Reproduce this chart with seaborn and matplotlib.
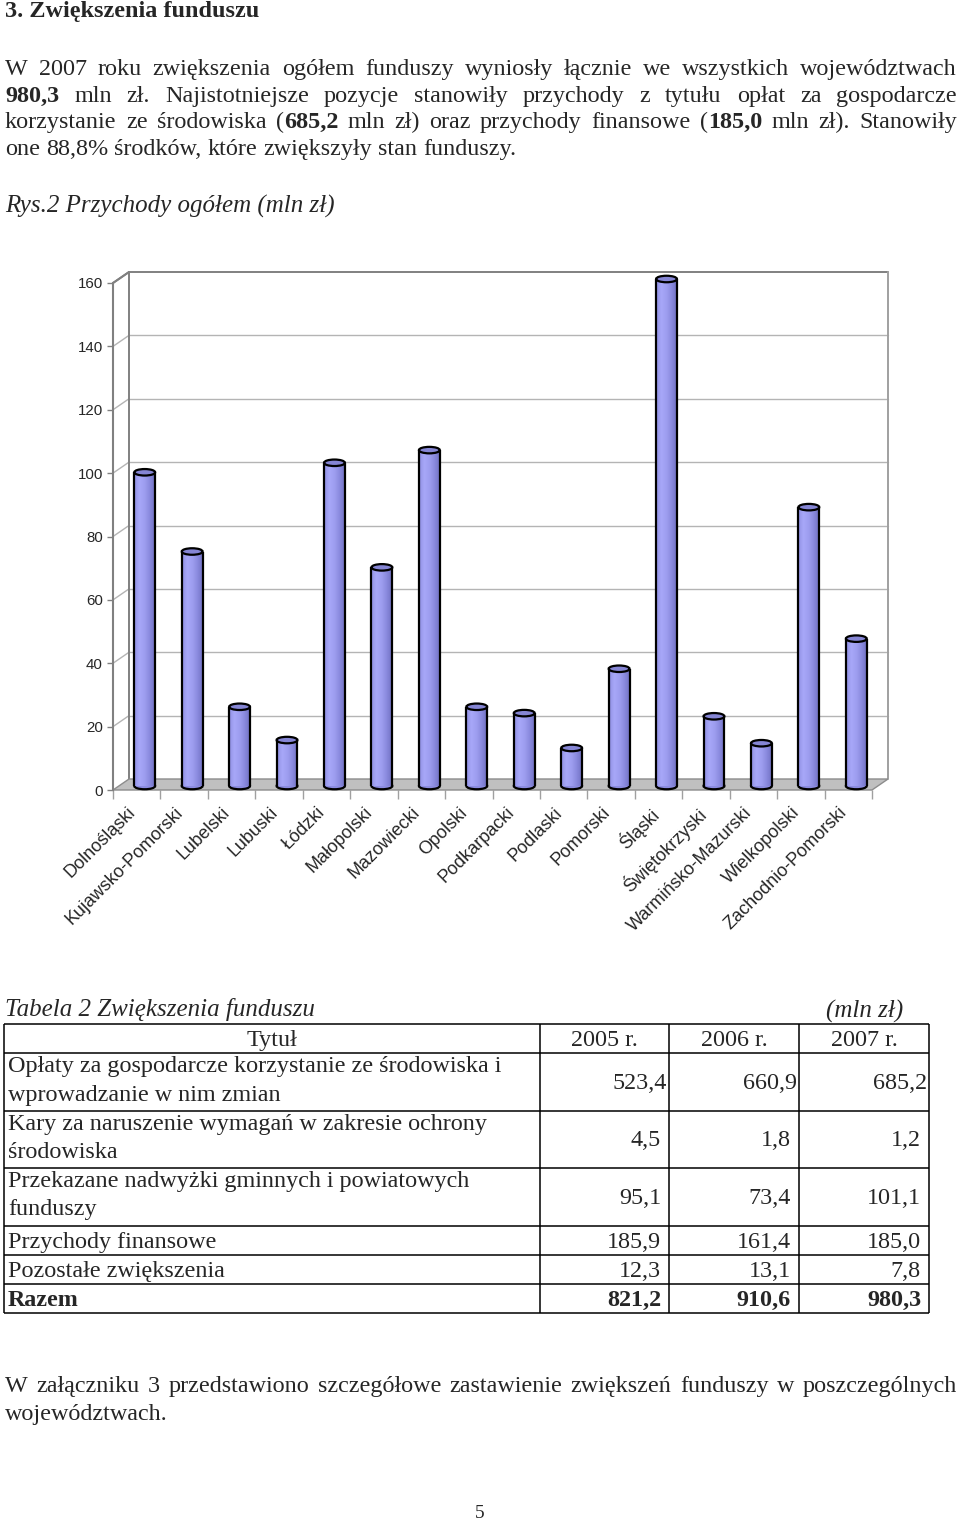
import matplotlib
matplotlib.use('Agg')
import matplotlib.pyplot as plt
import numpy as np
import pandas as pd
import seaborn as sns
from matplotlib.patches import Ellipse, Polygon
from matplotlib.colors import LinearSegmentedColormap
from matplotlib.transforms import ScaledTranslation

# chart data (mln zl)
regions = ['Dolnośląski', 'Kujawsko-Pomorski', 'Lubelski', 'Lubuski', 'Łódzki',
           'Małopolski', 'Mazowiecki', 'Opolski', 'Podkarpacki', 'Podlaski',
           'Pomorski', 'Śląski', 'Świętokrzyski', 'Warmińsko-Mazurski',
           'Wielkopolski', 'Zachodnio-Pomorski']
przychody = [99, 74, 25, 14.5, 102, 69, 106, 25, 23, 12, 37, 160, 22, 13.5, 88, 46.5]
y_ticks = [0, 20, 40, 60, 80, 100, 120, 140, 160]

# table data
tab_titles = ['Opłaty za gospodarcze korzystanie ze środowiska i\nwprowadzanie w nim zmian',
              'Kary za naruszenie wymagań w zakresie ochrony\nśrodowiska',
              'Przekazane nadwyżki gminnych i powiatowych\nfunduszy',
              'Przychody finansowe',
              'Pozostałe zwiększenia',
              'Razem']
tab_years = ['2005 r.', '2006 r.', '2007 r.']
v2005 = [523.4, 4.5, 95.1, 185.9, 12.3, 821.2]
v2006 = [660.9, 1.8, 73.4, 161.4, 13.1, 910.6]
v2007 = [685.2, 1.2, 101.1, 185.0, 7.8, 980.3]

para1 = ['W 2007 roku zwiększenia ogółem funduszy wyniosły łącznie we wszystkich województwach',
         '**980,3** mln zł. Najistotniejsze pozycje stanowiły przychody z tytułu opłat za gospodarcze',
         'korzystanie ze środowiska (**685,2** mln zł) oraz przychody finansowe (**185,0** mln zł). Stanowiły',
         'one 88,8% środków, które zwiększyły stan funduszy.']
para2 = ['W załączniku 3 przedstawiono szczegółowe zastawienie zwiększeń funduszy w poszczególnych',
         'województwach.']

SERIF = ['Liberation Serif', 'DejaVu Serif']
FS = 17.4      # body text size
FS_CAP = 18    # italic captions

sns.set_theme(style='white')
plt.rcParams['font.family'] = ['Liberation Sans', 'DejaVu Sans']

fig = plt.figure(figsize=(9.6, 15.2), dpi=100)
page = fig.add_axes([0, 0, 1, 1])
page.set_xlim(0, 960)
page.set_ylim(1520, 0)
page.axis('off')
renderer = fig.canvas.get_renderer()


def text_line(y, line, size, justify=True, x0=5, x1=957):
    # words with **bold** parts, spread over the full width when justified
    bold = False
    words = []
    for w in line.split(' '):
        segs = []
        for i, part in enumerate(w.split('**')):
            if i > 0:
                bold = not bold
            if part:
                t = page.text(0, y, part, fontsize=size, family=SERIF,
                              fontweight='bold' if bold else 'normal', va='baseline')
                segs.append((t, t.get_window_extent(renderer).width))
        words.append(segs)
    widths = [sum(s[1] for s in segs) for segs in words]
    if justify and len(words) > 1:
        gap = (x1 - x0 - sum(widths)) / (len(words) - 1)
    else:
        gap = size * 0.25 / 0.72
    x = x0
    for segs in words:
        for t, tw in segs:
            t.set_x(x)
            x += tw
        x += gap


page.text(5, 17, '3. Zwiększenia funduszu', fontsize=17.5, family=SERIF,
          fontweight='bold', va='baseline')
for i, line in enumerate(para1):
    text_line(75 + i * 26.7, line, FS, justify=(i < len(para1) - 1))
page.text(5, 213, 'Rys.2 Przychody ogółem (mln zł)', fontsize=FS_CAP, family=SERIF,
          style='italic', va='baseline')

# ---- chart (pseudo 3D cylinders) ----
ax = fig.add_axes([113 / 960, 1 - 790 / 1520, 759 / 960, 507 / 1520])
ax.set_facecolor('none')
px_x = 759 / 16
px_y = 507 / 160
dx, dy = 16 / px_x, 11 / px_y          # depth of the box
mx, base = 8 / px_x, 4 / px_y          # bars sit at mid depth
eh = 6.5 / px_y

df = pd.DataFrame({'region': regions, 'value': przychody})
sns.barplot(data=df, x='region', y='value', ax=ax, color='#9494EA', saturation=1,
            width=0.44, linewidth=0, order=regions)
ax.set_xlabel('')
ax.set_ylabel('')

# back wall, left wall and floor
for v in y_ticks[1:]:
    c, lw = ('#808080', 1.4) if v == y_ticks[-1] else ('#B4B4B4', 1.0)
    ax.plot([-0.5 + dx, 15.5 + dx], [v + dy, v + dy], color=c, lw=lw, clip_on=False, zorder=0.5)
    ax.plot([-0.5, -0.5 + dx], [v, v + dy], color=c, lw=lw, clip_on=False, zorder=0.5)
ax.plot([-0.5 + dx, -0.5 + dx], [dy, 160 + dy], color='#808080', lw=1.4, clip_on=False, zorder=0.6)
ax.plot([15.5 + dx, 15.5 + dx], [dy, 160 + dy], color='#A0A0A0', lw=1.4, clip_on=False, zorder=0.6)
ax.add_patch(Polygon([(-0.5, 0), (15.5, 0), (15.5 + dx, dy), (-0.5 + dx, dy)],
                     closed=True, fc='#C0C0C0', ec='#8C8C8C', lw=1.0, clip_on=False, zorder=1))

cyl = LinearSegmentedColormap.from_list(
    'cyl', ['#9090E4', '#A8A8F8', '#9E9EF0', '#8A8ADE', '#7272C4'])
grad = np.linspace(0, 1, 64).reshape(1, -1)
for p in list(ax.patches):
    if isinstance(p, Polygon):
        continue
    h = p.get_height()
    x0 = p.get_x() + mx
    w = p.get_width()
    p.set_x(x0)
    p.set_y(base)
    p.set_zorder(3)
    p.set_clip_on(False)
    ax.add_patch(Ellipse((x0 + w / 2, base), w, eh, fc='#8C8CE0', ec='black',
                         lw=1.6, zorder=2, clip_on=False))
    im = ax.imshow(grad, extent=[x0, x0 + w, base, base + h], aspect='auto',
                   cmap=cyl, origin='lower', zorder=3.5, interpolation='bilinear')
    im.set_clip_path(p)
    ax.vlines([x0, x0 + w], base, base + h, color='black', lw=1.6, zorder=4, clip_on=False)
    ax.add_patch(Ellipse((x0 + w / 2, base + h), w, eh, fc='#8585D4', ec='black',
                         lw=1.6, zorder=5, clip_on=False))

ax.set_xlim(-0.5, 15.5)
ax.set_ylim(0, 160)
ax.set_yticks(y_ticks)
ax.set_xticks(range(len(regions)))
ax.set_xticklabels(regions, rotation=45, ha='right', va='top', rotation_mode='anchor',
                   fontsize=13)
ax.set_xticks(np.arange(-0.5, len(regions), 1), minor=True)
ax.tick_params(axis='x', which='major', length=0, pad=10)
ax.tick_params(axis='x', which='minor', length=6.5, color='#A0A0A0', width=1, bottom=True)
ax.tick_params(axis='y', length=4.3, color='#808080', width=1, left=True, labelsize=10.8, pad=3)
for lbl in ax.get_xticklabels():
    lbl.set_transform(lbl.get_transform() + ScaledTranslation(-0.10, 0, fig.dpi_scale_trans))
for s in ['top', 'right', 'bottom']:
    ax.spines[s].set_visible(False)
ax.spines['left'].set_color('#808080')
ax.spines['left'].set_linewidth(1.5)
ax.plot([-0.5, -0.5 + dx], [160, 160 + dy], color='#808080', lw=1.4, clip_on=False)

# ---- table ----
page.text(5, 1016, 'Tabela 2 Zwiększenia funduszu', fontsize=FS_CAP, family=SERIF,
          style='italic', va='baseline')
page.text(903, 1018, '(mln zł)', fontsize=FS_CAP, family=SERIF, style='italic',
          va='baseline', ha='right')
row_y = [1024, 1053, 1111, 1168, 1226, 1255, 1284, 1313]
col_x = [3.5, 540, 669, 799, 929]
page.hlines(row_y, col_x[0], col_x[-1], color='black', lw=1.1)
page.vlines(col_x, row_y[0], row_y[-1], color='black', lw=1.1)
TS = FS
page.text((col_x[0] + col_x[1]) / 2, row_y[1] - 7, 'Tytuł', fontsize=TS, family=SERIF,
          ha='center', va='baseline')
for j, yr in enumerate(tab_years):
    page.text((col_x[j + 1] + col_x[j + 2]) / 2, row_y[1] - 7, yr, fontsize=TS,
              family=SERIF, ha='center', va='baseline')
for i, title in enumerate(tab_titles):
    top, bot = row_y[i + 1], row_y[i + 2]
    wt = 'bold' if title == 'Razem' else 'normal'
    lines = title.split('\n')
    if len(lines) == 2:
        for k, ln in enumerate(lines):
            page.text(8, top + 19 + 28.5 * k, ln, fontsize=TS, family=SERIF, va='baseline')
        ny = (top + bot) / 2 + 7
    else:
        page.text(8, bot - 7, lines[0], fontsize=TS, family=SERIF, va='baseline', fontweight=wt)
        ny = bot - 7
    padr = 2 if i == 0 else 8
    for j, col in enumerate([v2005, v2006, v2007]):
        s = f'{col[i]:.1f}'.replace('.', ',')
        page.text(col_x[j + 2] - padr, ny, s, fontsize=TS, family=SERIF, ha='right',
                  va='baseline', fontweight=wt)

for i, line in enumerate(para2):
    text_line(1392 + i * 27.7, line, FS, justify=(i < len(para2) - 1))
page.text(480, 1518, '5', fontsize=14, family=SERIF, ha='center', va='baseline')

fig.savefig('out.png', dpi=100)
